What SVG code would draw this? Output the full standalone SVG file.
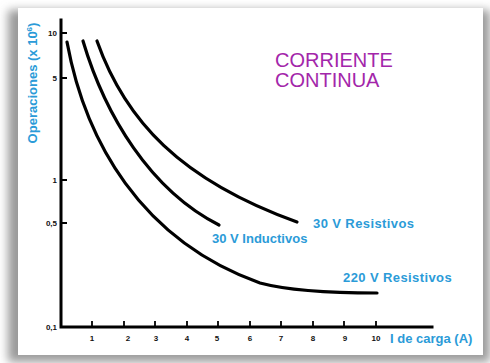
<svg xmlns="http://www.w3.org/2000/svg" width="490" height="363" viewBox="0 0 490 363">
<defs>
<filter id="sh" x="-10%" y="-10%" width="120%" height="120%"><feGaussianBlur stdDeviation="5"/></filter>
<style>
.ax{stroke:#000;stroke-width:3;fill:none;stroke-linecap:square}
.tk{stroke:#000;stroke-width:1.8;fill:none}
.cv{stroke:#000;stroke-width:3.2;fill:none;stroke-linecap:round}
.tl{font-family:"Liberation Sans",Arial,sans-serif;font-size:8px;font-weight:bold;fill:#111}
.bl{font-family:"Liberation Sans",Arial,sans-serif;font-size:13px;font-weight:bold;fill:#2b9bd8}
.pu{font-family:"Liberation Sans",Arial,sans-serif;font-size:20px;fill:#a326aa}
</style>
</defs>
<rect width="490" height="363" fill="#fff"/>
<rect x="8" y="10" width="482" height="352" fill="#9a9a9a" filter="url(#sh)"/>
<rect x="18" y="8" width="465" height="347" fill="#fff"/>
<g id="axes">
<path class="ax" d="M61,20 V327 H432"/>
<path class="tk" d="M61,33 H67 M61,78 H67 M61,180 H67 M61,223 H67 M92,327 V321 M124,327 V321 M155,327 V321 M187,327 V321 M218,327 V321 M250,327 V321 M281,327 V321 M313,327 V321 M344,327 V321 M376,327 V321"/>
<g class="tl" text-anchor="end">
<text x="57" y="36">10</text><text x="57" y="81">5</text><text x="57" y="183">1</text><text x="57" y="226">0,5</text><text x="57" y="330">0,1</text>
</g>
<g class="tl" text-anchor="middle">
<text x="92" y="341">1</text><text x="128" y="341">2</text><text x="156" y="341">3</text><text x="187" y="341">4</text><text x="217" y="341">5</text><text x="250" y="341">6</text><text x="281" y="341">7</text><text x="313" y="341">8</text><text x="345" y="341">9</text><text x="376" y="341">10</text>
</g>
<text class="bl" transform="translate(37,83) rotate(-90)" text-anchor="middle">Operaciones (x 10<tspan font-size="8" dy="-5">6</tspan><tspan dy="5">)</tspan></text>
<text class="bl" x="390" y="343" font-size="14">I de carga (A)</text>
</g>
<g id="title" class="pu">
<text x="275" y="67">CORRIENTE</text>
<text x="275" y="87">CONTINUA</text>
</g>
<g id="connectors">
<path id="c220" class="cv" d="M67,42 C85,140 140,240 260,283 C290,291 330,293 377,293"/>
<path id="c30i" class="cv" d="M83,41 C105,115 150,190 219,225"/>
<path id="c30r" class="cv" d="M97,41 C125,120 180,180 297,222"/>
</g>
<g id="lbl30r"><text class="bl" x="313" y="228" letter-spacing="0.4">30 V Resistivos</text></g>
<g id="lbl30i"><text class="bl" x="212" y="243">30 V Inductivos</text></g>
<g id="lbl220"><text class="bl" x="343" y="282" letter-spacing="0.4">220 V Resistivos</text></g>
</svg>
